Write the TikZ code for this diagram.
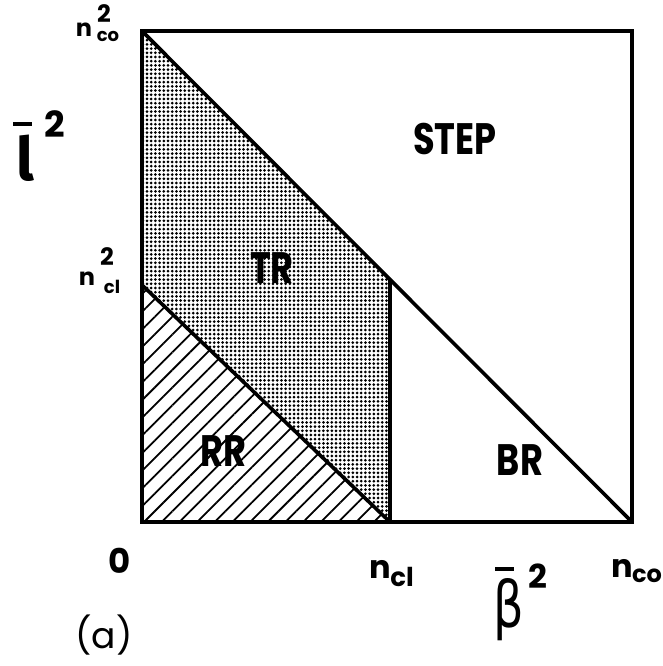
\documentclass[tikz,border=0pt]{standalone}
\usepackage{fontspec}
\usetikzlibrary{patterns.meta}
\newfontfamily\lab[FakeStretch=0.8]{Poppins}
\newfontfamily\labn{Poppins}
\newfontfamily\grk[FakeStretch=0.75]{DejaVu Sans}
\newfontfamily\ellfont{Fira Sans}
\newcommand\fsz[1]{\fontsize{#1}{#1}\selectfont}
\begin{document}
\begin{tikzpicture}[x=1pt,y=-1pt,
  frame/.style={line width=3.6pt,line join=miter},
  region/.style={font=\lab\bfseries\fsz{44},inner sep=0pt},
  axlab/.style={font=\labn\bfseries\fsz{#1},inner sep=0pt,anchor=base},
  bar/.style={line width=4pt}]
\useasboundingbox (0,0) rectangle (662,666);
\coordinate (TL) at (142,31);
\coordinate (TRc) at (632,31);
\coordinate (BRc) at (632,522);
\coordinate (BL) at (142,522);
\coordinate (Ncl2) at (142,285);
\coordinate (Mtop) at (390,279.5);
\coordinate (Mbot) at (390,522);
% regions
\fill[pattern={Dots[radius=1.5pt,distance=4.2pt]}] (TL) -- (Mtop) -- (Mbot) -- (Ncl2) -- cycle;
\fill[pattern={Lines[angle=45,distance=12.5pt,line width=1.8pt]}] (Ncl2) -- (Mbot) -- (BL) -- cycle;
% lines
\draw[frame] (TL) -- (TRc) -- (BRc) -- (BL) -- cycle;
\draw[frame] (TL) -- (BRc);
\draw[frame] (Ncl2) -- (Mbot);
\draw[frame] (Mtop) -- (Mbot);
% region labels
\node[region] (step) at (455,139) {STEP};
\node[region] (tr) at (272,268) {TR};
\node[region] (rr) at (223,451) {RR};
\node[region] (br) at (520,460) {BR};
% left labels
\node[axlab=24] (nco) at (84,37) {n};
\node[axlab=18] (ncosub) at (108,42) {co};
\node[axlab=24] (ncosup) at (104,23) {2};
\node[axlab=24] (ncl) at (87,285) {n};
\node[axlab=18] (nclsub) at (112,293) {cl};
\node[axlab=24] (nclsup) at (107,265) {2};
% l-bar squared
\node[font=\ellfont\bfseries\fsz{60},inner sep=0pt,anchor=base] (ell) at (25,180) {l};
\draw[bar] (13,124) -- (32,124);
\node[axlab=36] (ellsup) at (55,137) {2};
% bottom labels
\node[axlab=34] (zero) at (120,573) {0};
\node[axlab=32] (bncl) at (380,578) {n};
\node[axlab=26] (bnclsub) at (402,586) {cl};
\node[axlab=32] (bnco) at (622,577) {n};
\node[axlab=24] (bncosub) at (647,582) {co};
\node[font=\grk\fsz{64},inner sep=0pt,anchor=base] (beta) at (509,627) {β};
\draw[bar] (495,569) -- (514,569);
\node[axlab=33] (betasup) at (538,588) {2};
\node[font=\labn\fsz{36},inner sep=0pt,anchor=base] (a) at (104,648) {(a)};
\end{tikzpicture}
\end{document}
